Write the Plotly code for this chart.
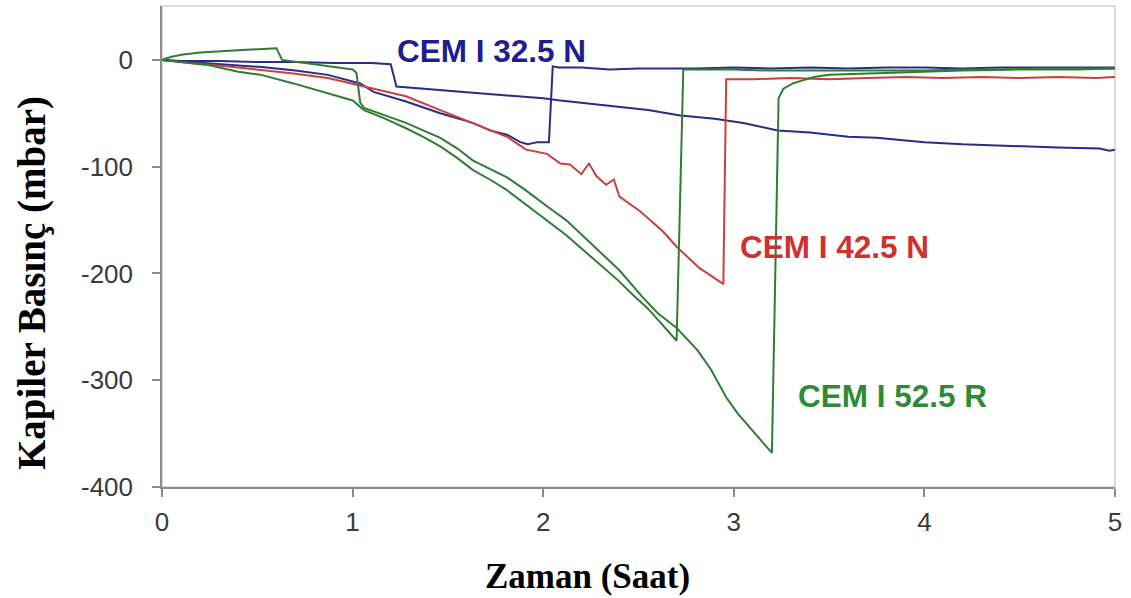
import plotly.graph_objects as go

# Time (hours) and capillary pressure (mbar) for each specimen
t_325_a = [0, 0.1, 0.3, 0.5, 0.7, 0.9, 1.1, 1.2, 1.23, 1.3, 1.46, 1.6, 1.81, 2.0, 2.09, 2.2, 2.4,
           2.55, 2.72, 2.9, 3.05, 3.23, 3.4, 3.6, 3.75, 3.87, 4.0, 4.2, 4.49, 4.7, 4.92, 4.97, 5.0]
p_325_a = [0, -1, -1, -2, -2, -3, -3, -4, -25, -26, -28, -30, -33, -36, -38, -40, -44,
           -47, -52, -55, -59, -66, -68, -72, -73, -75, -77, -79, -81, -82, -83, -85, -84]

t_325_b = [0, 0.15, 0.3, 0.51, 0.7, 0.87, 1.04, 1.11, 1.28, 1.46, 1.63, 1.72, 1.81, 1.88, 1.92,
           1.97, 2.03, 2.05, 2.08, 2.2, 2.35, 2.5, 2.65, 2.8, 3.0, 3.2, 3.4, 3.6, 3.8, 4.0, 4.2,
           4.4, 4.6, 4.8, 5.0]
p_325_b = [0, -2, -4, -6.5, -10, -14, -22, -30, -39, -50, -59, -66, -70, -77, -79,
           -77, -77, -6, -7, -7, -9, -8, -8, -8, -7, -8, -7, -8, -7, -7, -8,
           -7, -7, -7, -7]

t_425 = [0, 0.15, 0.34, 0.51, 0.7, 0.87, 1.04, 1.28, 1.46, 1.63, 1.81, 1.91, 2.02, 2.09, 2.14,
         2.2, 2.24, 2.28, 2.33, 2.37, 2.4, 2.51, 2.63, 2.7, 2.82, 2.88, 2.93, 2.945, 2.96, 3.1,
         3.3, 3.5, 3.7, 3.9, 4.1, 4.3, 4.5, 4.7, 4.9, 5.0]
p_425 = [0, -3, -6, -9, -13, -17, -24, -34, -47, -59, -72, -84, -88, -97, -98,
         -107, -97, -109, -117, -112, -128, -142, -161, -175, -195, -202, -208, -210, -18, -18,
         -17, -18, -17, -16, -17, -16, -17, -16, -17, -16]

t_525_a = [0, 0.1, 0.25, 0.4, 0.52, 0.69, 0.86, 1.0, 1.06, 1.17, 1.28, 1.37, 1.46, 1.55, 1.63,
           1.72, 1.81, 1.9, 1.98, 2.05, 2.12, 2.21, 2.3, 2.39, 2.47, 2.55, 2.6, 2.65, 2.7, 2.735,
           2.8, 3.0, 3.2, 3.4, 3.6, 3.8, 4.0, 4.2, 4.4, 4.6, 4.8, 5.0]
p_525_a = [0, -2, -5, -11, -14, -22, -31, -38, -47, -55, -64, -72, -81, -92, -103,
           -112, -122, -134, -145, -154, -164, -178, -192, -206, -220, -233, -243, -253, -263, -9,
           -9, -9, -10, -10, -10, -10, -10, -9, -9, -8, -8, -8]

t_525_b = [0, 0.05, 0.11, 0.2, 0.4, 0.57, 0.6, 0.63, 0.8, 1.0, 1.02, 1.04, 1.06, 1.17, 1.28,
           1.37, 1.46, 1.55, 1.63, 1.72, 1.81, 1.9, 1.98, 2.05, 2.12, 2.21, 2.3, 2.4, 2.52, 2.6,
           2.7, 2.81, 2.88, 2.96, 3.02, 3.1, 3.2, 3.235, 3.26, 3.31, 3.42, 3.5, 3.65, 3.8, 4.0,
           4.2, 4.5, 4.8, 5.0]
p_525_b = [0, 3, 5, 7, 9, 11, 11, 0, -4, -9, -12, -40, -45, -52, -59,
           -66, -73, -83, -94, -102, -110, -121, -132, -141, -150, -165, -180, -197, -222, -237,
           -251, -272, -290, -316, -331, -347, -368, -36, -27, -22, -16, -14, -13, -12, -11,
           -10, -9, -9, -8]

x_ticks = [0, 1, 2, 3, 4, 5]
y_ticks = [0, -100, -200, -300, -400]

BLUE = "#2a2d85"
RED = "#c8403f"
GREEN = "#2f7d33"

fig = go.Figure()
series = [
    (t_325_a, p_325_a, BLUE),
    (t_325_b, p_325_b, BLUE),
    (t_425, p_425, RED),
    (t_525_a, p_525_a, GREEN),
    (t_525_b, p_525_b, GREEN),
]
for tx, py, col in series:
    fig.add_trace(go.Scatter(x=tx, y=py, mode="lines",
                             line=dict(color=col, width=2), showlegend=False))

label_font = "Liberation Sans, Arial, sans-serif"
for text, lx, ly, col in [
    ("CEM I 32.5 N", 1.73, 8.5, "#1e1e8c"),
    ("CEM I 42.5 N", 3.53, -175, "#cf3030"),
    ("CEM I 52.5 R", 3.83, -315, "#2e8b34"),
]:
    fig.add_annotation(x=lx, y=ly, xref="x", yref="y", text=f"<b>{text}</b>",
                       showarrow=False, xanchor="center", yanchor="middle",
                       font=dict(family=label_font, size=31.5, color=col))

serif = "Liberation Serif, Times New Roman, serif"
fig.add_annotation(x=0.447, y=-0.187, xref="paper", yref="paper",
                   text="<b>Zaman (Saat)</b>", showarrow=False,
                   xanchor="center", yanchor="middle",
                   font=dict(family=serif, size=35, color="#000000"))
fig.add_annotation(x=-0.1364, y=0.424, xref="paper", yref="paper",
                   text="<b>Kapiler Basınç (mbar)</b>", showarrow=False, textangle=-90,
                   xanchor="center", yanchor="middle",
                   font=dict(family=serif, size=39, color="#000000"))

# light frame around the plotting area
fig.add_shape(type="rect", xref="paper", yref="paper", x0=0, y0=0, x1=1, y1=1,
              line=dict(color="#d4d4d4", width=1.5), layer="below")

tick_font = dict(family=label_font, size=26, color="#3a3a3a")
fig.update_xaxes(range=[0, 5], tickvals=x_ticks, ticktext=[str(v) for v in x_ticks],
                 showgrid=False, zeroline=False, showline=True, linecolor="#8c8c8c",
                 linewidth=1.5, ticks="outside", ticklen=8, tickcolor="#8c8c8c",
                 tickwidth=1.5, tickfont=tick_font, ticklabelstandoff=3)
fig.update_yaxes(range=[-400, 50.5], tickvals=y_ticks, ticktext=[str(v) for v in y_ticks],
                 showgrid=False, zeroline=False, showline=True, linecolor="#8c8c8c",
                 linewidth=1.5, ticks="outside", ticklen=8, tickcolor="#8c8c8c",
                 tickwidth=1.5, tickfont=tick_font, ticklabelstandoff=14)

fig.update_layout(width=1131, height=598, margin=dict(l=162, r=16, t=6, b=111),
                  paper_bgcolor="white", plot_bgcolor="white")

fig.write_html("out.html")
